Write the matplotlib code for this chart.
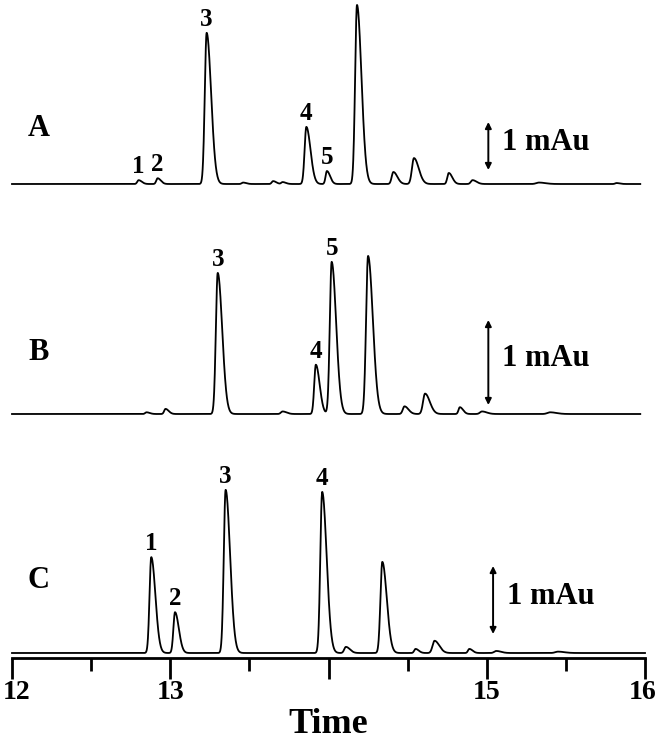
import numpy as np
import matplotlib.pyplot as plt
from matplotlib.transforms import ScaledTranslation

# peak tables (time in min, height in mAu)
a_times = [12.80, 12.92, 13.23, 13.46, 13.65, 13.71, 13.86, 13.99, 14.18, 14.41, 14.54, 14.76, 14.91, 15.33, 15.82]
a_heights = [0.08, 0.12, 3.15, 0.03, 0.06, 0.04, 1.19, 0.27, 3.73, 0.25, 0.54, 0.23, 0.08, 0.03, 0.02]
a_widths = [0.02, 0.02, 0.028, 0.02, 0.02, 0.02, 0.026, 0.02, 0.028, 0.025, 0.03, 0.022, 0.025, 0.04, 0.02]
a_peak_names = ['1', '2', '3', '4', '5']
a_peak_idx = [0, 1, 2, 6, 7]

b_times = [12.85, 12.97, 13.30, 13.71, 13.92, 14.02, 14.25, 14.48, 14.61, 14.83, 14.97, 15.40]
b_heights = [0.02, 0.06, 1.66, 0.03, 0.58, 1.79, 1.86, 0.09, 0.24, 0.08, 0.03, 0.02]
b_widths = [0.02, 0.02, 0.028, 0.025, 0.024, 0.028, 0.03, 0.025, 0.03, 0.02, 0.03, 0.04]
b_peak_names = ['3', '4', '5']
b_peak_idx = [2, 4, 5]

c_times = [12.88, 13.03, 13.35, 13.96, 14.11, 14.34, 14.55, 14.67, 14.89, 15.06, 15.45]
c_heights = [1.41, 0.60, 2.40, 2.37, 0.09, 1.34, 0.06, 0.18, 0.06, 0.03, 0.02]
c_widths = [0.026, 0.024, 0.028, 0.028, 0.025, 0.028, 0.02, 0.03, 0.02, 0.03, 0.04]
c_peak_names = ['1', '2', '3', '4']
c_peak_idx = [0, 1, 2, 3]

traces = [
    ('A', a_times, a_heights, a_widths, a_peak_names, a_peak_idx),
    ('B', b_times, b_heights, b_widths, b_peak_names, b_peak_idx),
    ('C', c_times, c_heights, c_widths, c_peak_names, c_peak_idx),
]

# layout: baseline (px above axis), px per mAu, trace end, scale bar x, bar bottom offset
baselines = [474, 244, 5]
scales = [48, 85, 68]
t_end = [15.97, 15.97, 16.0]
bar_x = [15.01, 15.01, 15.04]
bar_off = [14, 9, 19]
letter_y = [530, 306, 78]

FONT = 'Liberation Serif'


def signal(t, times, heights, widths):
    y = np.zeros_like(t)
    for t0, h, w in zip(times, heights, widths):
        s = np.where(t < t0, w * 0.42, w)  # tailing peaks
        y += h * np.exp(-0.5 * ((t - t0) / s) ** 2)
    return y


fig = plt.figure(figsize=(6.67, 7.46), dpi=100)
ax = fig.add_axes([12 / 667, 88 / 746, 633 / 667, 658 / 746])
ax.set_xlim(12, 16)
ax.set_ylim(0, 658)

for k, (name, times, heights, widths, pnames, pidx) in enumerate(traces):
    t = np.linspace(12, t_end[k], 3000)
    y = baselines[k] + scales[k] * signal(t, times, heights, widths)
    ax.plot(t, y, color='black', lw=1.3, clip_on=False)
    for lab, i in zip(pnames, pidx):
        apex = baselines[k] + scales[k] * signal(np.array([times[i]]), times, heights, widths)[0]
        ax.text(times[i], apex + 2, lab, ha='center', va='bottom', fontsize=18,
                fontweight='bold', family=FONT)
    # 1 mAu scale bar
    y0 = baselines[k] + bar_off[k]
    y1 = y0 + scales[k]
    ax.annotate('', xy=(bar_x[k], y1), xytext=(bar_x[k], y0),
                arrowprops=dict(arrowstyle='<|-|>', color='black', lw=1.4,
                                mutation_scale=9, shrinkA=0, shrinkB=0))
    ax.text(bar_x[k] + 0.085, (y0 + y1) / 2 + 4, '1 mAu', ha='left', va='center',
            fontsize=22, fontweight='bold', family=FONT)
    ax.text(12.17, letter_y[k], name, ha='center', va='center', fontsize=22,
            fontweight='bold', family=FONT)

for side in ['top', 'right', 'left']:
    ax.spines[side].set_visible(False)
ax.spines['bottom'].set_linewidth(2)
ax.set_yticks([])
ax.set_xticks([12, 13, 14, 15, 16])
ax.set_xticklabels(['12', '13', '', '15', '16'], fontsize=20, fontweight='bold', family=FONT)
ax.set_xticks([12.5, 13.5, 14.5, 15.5], minor=True)
ax.tick_params(axis='x', which='major', length=15, width=2, pad=1)
ax.tick_params(axis='x', which='minor', length=9, width=2)
# keep the first and last labels inside the picture
ticklabs = ax.get_xticklabels()
ticklabs[0].set_transform(ticklabs[0].get_transform() + ScaledTranslation(5 / 100, 0, fig.dpi_scale_trans))
ticklabs[-1].set_transform(ticklabs[-1].get_transform() + ScaledTranslation(-2 / 100, 0, fig.dpi_scale_trans))
ax.set_xlabel('Time', fontsize=26, fontweight='bold', family=FONT, labelpad=2)

fig.savefig('out.png', dpi=100)
